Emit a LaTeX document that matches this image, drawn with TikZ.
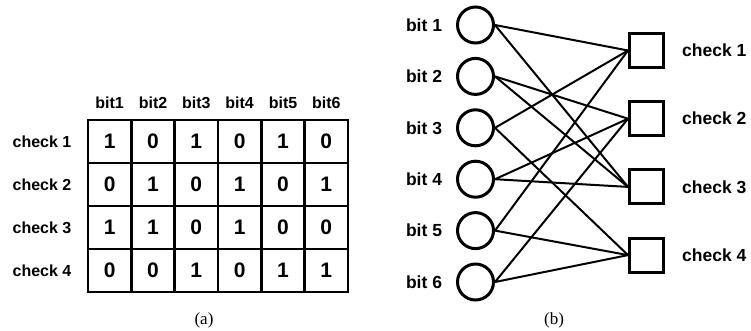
\documentclass[tikz,border=0pt]{standalone}
\usepackage{fontspec}
\setmainfont{Liberation Serif}
\newfontfamily\arialf{Liberation Sans}
\begin{document}
\begin{tikzpicture}[x=1pt,y=-1pt,
  tlabel/.style={font=\arialf\bfseries\fontsize{16}{18}\selectfont, inner sep=0pt},
  digit/.style={font=\arialf\bfseries\fontsize{21}{24}\selectfont, inner sep=0pt},
  glabel/.style={font=\arialf\bfseries\fontsize{17.5}{20}\selectfont, inner sep=0pt},
  bitnode/.style={circle, draw, line width=3pt, minimum size=36pt, inner sep=0pt},
  checknode/.style={rectangle, draw, line width=3pt, minimum size=34pt, inner sep=0pt},
  edge/.style={line width=2pt},
  grid/.style={line width=2.4pt},
  caption/.style={font=\fontsize{17}{20}\selectfont, inner sep=0pt}]
\useasboundingbox (0,0) rectangle (751,330);
% ---- (a) matrix ----
\draw[grid] (88,120) rectangle (348,292);
\foreach \i in {1,...,5} \draw[grid] (88+\i*43.333,120) -- (88+\i*43.333,292);
\foreach \j in {1,2,3} \draw[grid] (88,120+\j*43) -- (348,120+\j*43);
\foreach \i in {1,...,6} \node[tlabel] (h\i) at (88+\i*43.333-21.667,103) {bit\i};
\foreach \j in {1,...,4} \node[tlabel] (r\j) at (42,120+\j*43-21.5) {check \j};
\foreach \r/\row in {1/{1,0,1,0,1,0},2/{0,1,0,1,0,1},3/{1,1,0,1,0,0},4/{0,0,1,0,1,1}}{
  \foreach \v [count=\c] in \row
    \node[digit] (m\r\c) at (88+\c*43.333-21.667,120+\r*43-21.5) {\v};
}
\node[caption] (capa) at (204,320) {(a)};
% ---- (b) Tanner graph ----
\foreach \k/\y in {1/25,2/76.4,3/127.8,4/179.2,5/230.6,6/282}{
  \node[bitnode] (b\k) at (475.5,\y) {};
  \node[glabel] (bl\k) at (424,\y) {bit \k};
}
\foreach \k/\y in {1/50.5,2/118.7,3/186.9,4/255.1}{
  \node[checknode] (c\k) at (646.5,\y) {};
  \node[glabel, anchor=west] (cl\k) at (682,\y) {check \k};
}
\foreach \b/\c in {1/1,3/1,5/1,2/2,4/2,6/2,1/3,2/3,4/3,3/4,5/4,6/4}
  \draw[edge] (b\b.east) -- (c\c.west);
\node[caption] (capb) at (554,320) {(b)};
\end{tikzpicture}
\end{document}
